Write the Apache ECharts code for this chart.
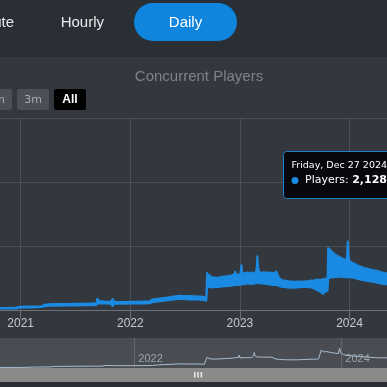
<!DOCTYPE html>
<html><head><meta charset="utf-8">
<script src="https://cdn.jsdelivr.net/npm/echarts/dist/echarts.min.js"></script>
<style>html,body{margin:0;padding:0;background:#33373e;}#c{width:387px;height:387px;}</style>
</head><body><div id="c"></div>
<script>
// days since 2021-01-01
const days = [-130,-100,-70,-40,-15,-8,10,30,50,70,80,95,120,150,180,210,240,252,255,258,262,280,300,306,312,330,350,370,390,410,430,437,450,470,490,510,530,545,560,580,600,612,618,
621,624,628,632,636,641,646,651,656,661,666,671,676,681,686,691,696,701,706,711,714,717,722,727,732,735,738,743,748,753,758,763,768,773,778,783,786,788,791,795,800,805,810,815,820,825,830,835,840,845,850,853,858,863,868,873,878,883,888,893,898,903,908,913,918,923,928,933,938,943,948,953,958,963,968,973,978,983,988,993,998,1003,1007,1011,1015,1019,1022,1024,1027,1030,1033,1036,1040,1044,1048,1052,1056,1060,1064,1068,1072,1076,1080,1084,1087,1089,1092,1095,1099,1103,1107,1111,1115,1119,1123,1127,1131,1135,1139,1143,1147,1151,1155,1159,1163,1167,1171,1175,1179,1183,1187,1191,1195,1199,1203,1207,1211,1215,1219,1223,1227,1231,1236,1241,1246,1252,1260];
// daily low / high of concurrent players around each sample
const lowPlayers = [100,105,110,115,120,180,190,200,210,230,300,330,340,350,360,370,380,390,480,500,520,500,480,300,500,490,480,500,510,500,520,600,640,700,760,820,880,850,820,830,800,760,740,
1850,1800,1820,1780,1800,1760,1800,1790,1820,1800,1840,1830,1860,1850,1880,1870,1900,1890,1920,1940,1960,1950,1970,1960,1980,2000,2000,2050,2030,2080,2060,2050,2040,2070,2060,2080,2100,2200,2100,2080,2100,2070,2060,2050,2030,2000,2000,1980,1960,1950,1950,1950,1900,1850,1820,1800,1790,1770,1760,1750,1740,1730,1730,1740,1750,1760,1770,1780,1790,1800,1800,1790,1780,1770,1750,1720,1680,1600,1550,1500,1420,1350,1250,1400,1450,1480,1500,2500,2550,2500,2550,2550,2580,2550,2600,2580,2600,2620,2600,2620,2580,2600,2560,2580,2560,2600,2550,2550,2560,2540,2530,2500,2480,2450,2420,2400,2380,2350,2340,2320,2300,2280,2270,2250,2240,2220,2200,2180,2170,2150,2130,2100,2080,2060,2050,2040,2030,2020,2020,2010,2000,1990,1990,1980,1980,1970,1960];
const highPlayers = [140,145,150,160,170,240,250,270,280,300,420,440,460,470,480,490,500,510,880,820,700,660,640,860,640,630,620,640,650,660,680,800,860,920,980,1060,1120,1090,1100,1080,1060,1000,980,
2900,2600,2750,2480,2620,2450,2560,2420,2550,2470,2600,2500,2640,2540,2680,2580,2700,2620,2760,2680,3000,2700,2800,2680,2850,3500,2750,2900,2780,2950,2820,2920,2800,2950,2830,2900,3300,4200,3300,2850,2950,2850,2980,2860,2950,2850,2950,2830,2900,2820,3000,2950,2600,2450,2380,2300,2320,2250,2280,2220,2250,2200,2230,2190,2220,2200,2240,2190,2230,2210,2260,2220,2280,2240,2320,2260,2350,2280,2400,2300,2380,2320,2420,2350,2480,2400,2500,4850,4500,4750,4400,4600,4250,4450,4100,4300,3950,4200,3900,4100,3850,4000,3800,3900,4300,5350,4200,3700,3800,3600,3700,3500,3600,3420,3500,3350,3420,3250,3350,3200,3280,3150,3250,3100,3200,3080,3150,3050,3120,3000,3080,2950,3020,2900,2960,2850,2920,2830,2880,2800,2860,2780,2840,2770,2820,2760,2800];
const yearBase = 2021;
const tabs = ['Minute','Hourly','Daily'];
const ranges = ['1m','3m','All'];
const chartTitle = 'Concurrent Players';
const tipDate = 'Friday, Dec 27 2024';
const tipName = 'Players';
const tipValue = '2,128';

const BLUE = '#1a8ae2';
const navData = days.map((d,i)=>[d, highPlayers[i]]);
const bandData = days.map((d,i)=>[d, lowPlayers[i], highPlayers[i]]);
const yearFmt = v => String(yearBase + Math.round(v/365));

function renderBand(params, api){
  if (params.dataIndex !== 0) return null;
  const pts = [];
  for (let i=0;i<bandData.length;i++) pts.push(api.coord([bandData[i][0], bandData[i][2]]));
  for (let i=bandData.length-1;i>=0;i--) pts.push(api.coord([bandData[i][0], bandData[i][1]]));
  return {type:'polygon', shape:{points:pts},
          style:{fill:BLUE, stroke:BLUE, lineWidth:2, lineJoin:'round'}};
}

const chart = echarts.init(document.getElementById('c'), null, {renderer:'canvas'});
chart.setOption({
  animation:false,
  backgroundColor:'#33373e',
  grid:[
    {left:-88.9, right:-72.1, top:118, bottom:77, containLabel:false, outerBoundsMode:'none'},
    {left:-72.7, right:-57.8, top:338, bottom:19, containLabel:false, outerBoundsMode:'none',
     show:true, borderWidth:0, backgroundColor:'#494d53'}
  ],
  xAxis:[
    {type:'value', gridIndex:0, min:-365, max:1460, interval:365,
     axisLine:{show:true, onZero:false, lineStyle:{color:'#6d7178', width:1}},
     axisTick:{show:true, length:9, lineStyle:{color:'#6d7178'}},
     axisLabel:{color:'#c6c9cd', fontSize:12, fontFamily:'Liberation Sans', margin:8, formatter:yearFmt},
     splitLine:{show:true, lineStyle:{color:'#4c5057', width:1}}},
    {type:'value', gridIndex:1, min:-365, max:1460, interval:730,
     axisLine:{show:false}, axisTick:{show:false},
     axisLabel:{inside:true, color:'#9fa3a8', fontSize:11, fontFamily:'Liberation Sans', margin:4, align:'left', padding:[0,0,0,4], formatter:yearFmt},
     splitLine:{show:true, lineStyle:{color:'#62666c', width:1}}}
  ],
  yAxis:[
    {type:'value', gridIndex:0, min:0, max:15000, interval:5000,
     axisLine:{show:false}, axisTick:{show:false}, axisLabel:{show:false},
     splitLine:{show:true, lineStyle:{color:'#4c5057', width:1}}},
    {type:'value', gridIndex:1, min:0, max:8150, show:false, splitLine:{show:false}}
  ],
  series:[
    {type:'custom', name:'Players', xAxisIndex:0, yAxisIndex:0, data:bandData,
     encode:{x:0, y:[1,2]}, renderItem:renderBand, z:3},
    {type:'line', name:'nav', xAxisIndex:1, yAxisIndex:1, data:navData, symbol:'none',
     lineStyle:{color:'#aabdd3', width:1}, z:3}
  ],
  graphic:{elements:[
    {type:'rect', shape:{x:0,y:0,width:387,height:57}, style:{fill:'#2a2e35'}, z:-10},
    {type:'text', x:14, y:23, style:{text:tabs[0], fill:'#e8eaec', font:'15px "Liberation Sans"', textAlign:'right', textVerticalAlign:'middle'}},
    {type:'text', x:82.3, y:23, style:{text:tabs[1], fill:'#e8eaec', font:'15px "Liberation Sans"', textAlign:'center', textVerticalAlign:'middle'}},
    {type:'rect', shape:{x:134,y:3,width:103,height:38,r:19}, style:{fill:'#1085dd'}},
    {type:'text', x:185.5, y:23, style:{text:tabs[2], fill:'#ffffff', font:'15px "Liberation Sans"', textAlign:'center', textVerticalAlign:'middle'}},
    {type:'text', x:199, y:76.5, style:{text:chartTitle, fill:'#7e8389', font:'15px "Liberation Sans"', textAlign:'center', textVerticalAlign:'middle'}},
    {type:'rect', shape:{x:-20,y:89,width:32,height:21,r:2}, style:{fill:'#4b4f56'}},
    {type:'text', x:-4, y:100, style:{text:ranges[0], fill:'#a7abb0', font:'11px "DejaVu Sans"', textAlign:'center', textVerticalAlign:'middle'}},
    {type:'rect', shape:{x:17,y:89,width:32,height:21,r:2}, style:{fill:'#4b4f56'}},
    {type:'text', x:33, y:100, style:{text:ranges[1], fill:'#a7abb0', font:'11px "DejaVu Sans"', textAlign:'center', textVerticalAlign:'middle'}},
    {type:'rect', shape:{x:54,y:89,width:32,height:21,r:2}, style:{fill:'#000000'}},
    {type:'text', x:70, y:100, style:{text:ranges[2], fill:'#ffffff', font:'bold 12px "Liberation Sans"', textAlign:'center', textVerticalAlign:'middle'}},
    {type:'rect', shape:{x:0,y:368,width:387,height:14}, style:{fill:'#8a8a8a'}, z:10},
    {type:'rect', shape:{x:194,y:372,width:1.5,height:5.5}, style:{fill:'#eeeeee'}, z:11},
    {type:'rect', shape:{x:197.3,y:372,width:1.5,height:5.5}, style:{fill:'#eeeeee'}, z:11},
    {type:'rect', shape:{x:200.6,y:372,width:1.5,height:5.5}, style:{fill:'#eeeeee'}, z:11},
    {type:'rect', shape:{x:0,y:382,width:387,height:5}, style:{fill:'#2a2e35'}, z:10},
    {type:'rect', shape:{x:283.5,y:151.5,width:130,height:47,r:3}, style:{fill:'rgba(2,4,8,0.92)', stroke:'#1f80c6', lineWidth:1}, z:50},
    {type:'text', x:291.5, y:165.5, style:{text:tipDate, fill:'#ffffff', font:'9.5px "DejaVu Sans"', textAlign:'left', textVerticalAlign:'middle'}, z:51},
    {type:'circle', shape:{cx:295,cy:180.5,r:3.5}, style:{fill:BLUE}, z:51},
    {type:'text', x:305, y:180.5, style:{text:'{a|'+tipName+': }{b|'+tipValue+'}', textVerticalAlign:'middle',
      rich:{a:{fill:'#ffffff', font:'11px "DejaVu Sans"'}, b:{fill:'#ffffff', font:'bold 11px "DejaVu Sans"'}}}, z:51}
  ]}
});
</script>
</body></html>
